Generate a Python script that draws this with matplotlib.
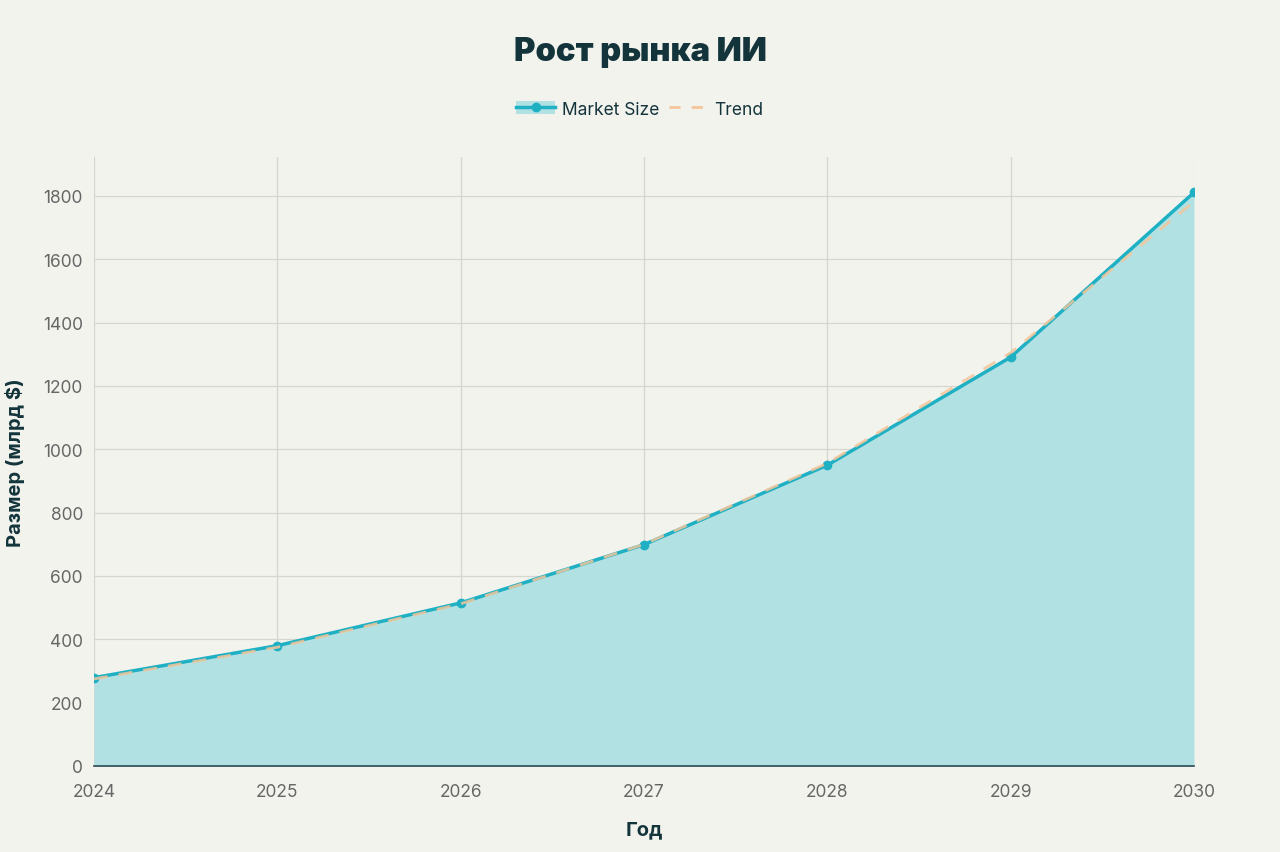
import matplotlib
matplotlib.use("Agg")
import matplotlib.pyplot as plt
from matplotlib.patches import Patch
from matplotlib.lines import Line2D

years = [2024, 2025, 2026, 2027, 2028, 2029, 2030]
market_size = [279, 380, 515, 699, 950, 1291, 1811]
trend = [275, 375, 512, 700, 956, 1305, 1782]
y_ticks = [0, 200, 400, 600, 800, 1000, 1200, 1400, 1600, 1800]

BG = "#f3f3ee"
LINE = "#1fb0c4"
FILL = "#b2e1e3"
TREND = "#f3c69a"
DARK = "#13343b"
GRAY = "#666666"

plt.rcParams['font.family'] = ['Inter', 'DejaVu Sans']

fig = plt.figure(figsize=(12.8, 8.53), dpi=100, facecolor=BG)
ax = fig.add_axes([94/1280, 86/853, 1100/1280, (767-158)/853])
ax.set_facecolor(BG)

ax.fill_between(years, market_size, 0, color=FILL, zorder=1, linewidth=0)
ax.plot(years, market_size, color=LINE, linewidth=2.5, marker='o', markersize=6, zorder=3)
ax.plot(years, trend, color=TREND, linewidth=2, linestyle=(0, (5, 4)), alpha=0.85, zorder=4)

ax.set_xlim(2024, 2030)
ax.set_ylim(0, 1923)
ax.set_xticks(years)
ax.set_yticks(y_ticks)
ax.grid(True, color="#d6d6d0", linewidth=0.9, zorder=0)
ax.set_axisbelow(True)
for s in ['top', 'right', 'left']:
    ax.spines[s].set_visible(False)
ax.spines['bottom'].set_color("#2b4a52")
ax.spines['bottom'].set_linewidth(1.2)
ax.tick_params(axis='both', length=0, labelsize=12.5, colors=GRAY, pad=8)
ax.tick_params(axis='x', pad=12)

ax.set_xlabel("Год", fontsize=14.5, fontweight='bold', color=DARK, labelpad=15)
ax.set_ylabel("Размер (млрд $)", fontsize=14.5, fontweight='bold', color=DARK, labelpad=13)

fig.text(0.5, 0.939, "Рост рынка ИИ", ha='center', va='center', fontsize=23.5,
         fontweight='black', color=DARK)

h1 = (Patch(facecolor=FILL, edgecolor='none'),
      Line2D([], [], color=LINE, linewidth=2.5, marker='o', markersize=6))
h2 = Line2D([], [], color=TREND, linewidth=2, linestyle=(0, (4, 4)))
fig.legend([h1, h2], ["Market Size", "Trend"], loc='center', bbox_to_anchor=(0.5, 0.871),
           ncol=2, frameon=False, fontsize=12.5, handlelength=2.2, columnspacing=0.6,
           handletextpad=0.4, labelcolor=DARK)

fig.savefig("out.png", dpi=100, facecolor=BG)
